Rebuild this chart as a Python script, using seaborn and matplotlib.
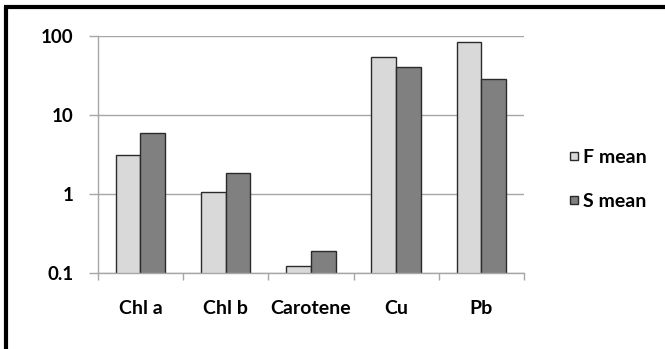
import matplotlib
matplotlib.use("Agg")
import matplotlib.pyplot as plt
from matplotlib.lines import Line2D
from matplotlib.ticker import FixedLocator, NullFormatter
import seaborn as sns
import pandas as pd

# Mean values per parameter for the two groups
categories = ["Chl a", "Chl b", "Carotene", "Cu", "Pb"]
f_mean = [3.05, 1.04, 0.122, 53, 84]
s_mean = [5.8, 1.83, 0.19, 39.5, 28]
series_names = ["F mean", "S mean"]
series_colors = ["#d9d9d9", "#808080"]
y_ticks = [0.1, 1, 10, 100]
y_tick_labels = ["0.1", "1", "10", "100"]

df = pd.DataFrame({
    "category": categories * 2,
    "value": f_mean + s_mean,
    "series": [series_names[0]] * len(categories) + [series_names[1]] * len(categories),
})

sns.set_theme(style="white")
plt.rcParams["font.family"] = ["Lato", "DejaVu Sans"]
plt.rcParams["font.weight"] = "bold"
plt.rcParams["text.color"] = "black"

fig = plt.figure(figsize=(6.65, 3.49), dpi=100)
fig.patch.set_facecolor("white")
ax = fig.add_axes([0.147, 0.2186, 0.641, 0.6794])

edge = "#2b2b2b"
sns.barplot(
    data=df, x="category", y="value", hue="series", order=categories,
    hue_order=series_names, palette=series_colors,
    width=0.58, edgecolor=edge, linewidth=1.0, ax=ax, legend=False,
)

ax.set_yscale("log")
ax.set_ylim(0.1, 100)
ax.yaxis.set_major_locator(FixedLocator(y_ticks))
ax.set_yticklabels(y_tick_labels)
ax.yaxis.set_minor_formatter(NullFormatter())
ax.tick_params(axis="y", which="minor", length=0)
ax.set_xlim(-0.5, len(categories) - 0.5)

gray = "#a6a6a6"
ax.yaxis.grid(True, which="major", color=gray, linewidth=1.0)
ax.set_axisbelow(True)
for side in ("top", "right"):
    ax.spines[side].set_visible(False)
for side in ("left", "bottom"):
    ax.spines[side].set_color(gray)
    ax.spines[side].set_linewidth(1.0)

ax.tick_params(axis="y", which="major", length=6.5, width=1.0, color=gray,
               direction="out", pad=11, labelsize=13.5, left=True)
ax.tick_params(axis="x", which="major", length=0, pad=20, labelsize=14)
ax.set_xticks([i - 0.5 for i in range(len(categories) + 1)], minor=True)
ax.tick_params(axis="x", which="minor", length=5, width=1.0, color=gray,
               direction="out", bottom=True)
for lab in ax.get_xticklabels() + ax.get_yticklabels():
    lab.set_fontweight("bold")
    lab.set_color("black")

ax.set_xlabel("")
ax.set_ylabel("")

# Small square swatches for the legend
handles = [
    Line2D([], [], linestyle="none", marker="s", markersize=6.2,
           markerfacecolor=c, markeredgecolor=edge, markeredgewidth=1.0)
    for c in series_colors
]
leg = fig.legend(
    handles, series_names, loc="center left", bbox_to_anchor=(0.842, 0.486),
    frameon=False, handlelength=0.6, handletextpad=0.2,
    labelspacing=1.35, borderaxespad=0,
    prop={"weight": "bold", "size": 14},
)
for t in leg.get_texts():
    t.set_color("black")

# Heavy frame along the top and left edges of the figure
fig.add_artist(Line2D([0.006, 1.0], [0.980, 0.980], color="black",
                      linewidth=3.0, transform=fig.transFigure,
                      solid_capstyle="butt"))
fig.add_artist(Line2D([0.009, 0.009], [0.0, 0.984], color="black",
                      linewidth=3.0, transform=fig.transFigure,
                      solid_capstyle="butt"))

fig.savefig("out.png", dpi=100, facecolor="white")
